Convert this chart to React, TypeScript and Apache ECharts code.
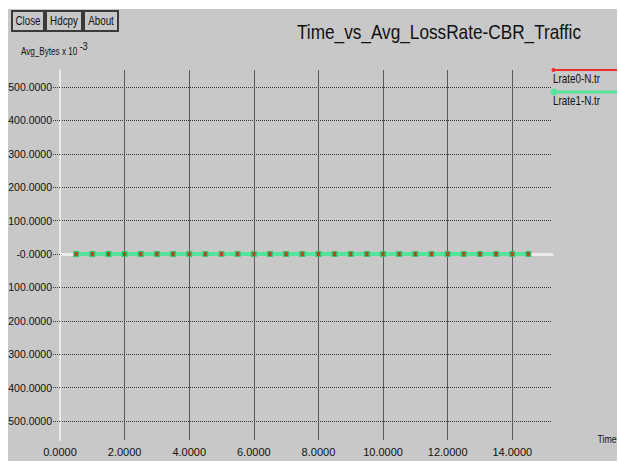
import React, { useEffect, useRef } from "react";
import * as echarts from "echarts";

const timeValues = [0.5, 1.0, 1.5, 2.0, 2.5, 3.0, 3.5, 4.0, 4.5, 5.0, 5.5, 6.0, 6.5, 7.0, 7.5, 8.0, 8.5, 9.0, 9.5, 10.0, 10.5, 11.0, 11.5, 12.0, 12.5, 13.0, 13.5, 14.0, 14.5];
const lrate0Values = [0, 0, 0, 0, 0, 0, 0, 0, 0, 0, 0, 0, 0, 0, 0, 0, 0, 0, 0, 0, 0, 0, 0, 0, 0, 0, 0, 0, 0];
const lrate1Values = [0, 0, 0, 0, 0, 0, 0, 0, 0, 0, 0, 0, 0, 0, 0, 0, 0, 0, 0, 0, 0, 0, 0, 0, 0, 0, 0, 0, 0];
const seriesNames = ["Lrate0-N.tr", "Lrate1-N.tr"];
const buttonLabels = ["Close", "Hdcpy", "About"];
const titleText = "Time_vs_Avg_LossRate-CBR_Traffic";
const yUnitText = "Avg_Bytes x 10";
const yUnitExp = "-3";
const xAxisName = "Time";
const xMin = 0;
const xMax = 15.23;
const xInterval = 2;
const yMin = -500;
const yMax = 500;
const yInterval = 100;

const FONT = '"Liberation Sans", Arial, sans-serif';
const RED = "#ee2a2a";
const GREEN = "#55e39c";

export default function App() {
  const ref = useRef<HTMLDivElement>(null);
  useEffect(() => {
    if (!ref.current) return;
    const chart = echarts.init(ref.current, null, { renderer: "svg" });
    const pairs0 = timeValues.map((t, i) => [t, lrate0Values[i]]);
    const pairs1 = timeValues.map((t, i) => [t, lrate1Values[i]]);
    const btnX = [4, 38, 76];
    const btnW = [32, 36, 34];
    const graphics: any[] = [];
    const txt = (text: string, x: number, y: number, size: number, sx: number, align = "left") => ({
      type: "text",
      x,
      y,
      scaleX: sx,
      style: { text, font: `${size}px ${FONT}`, fill: "#111", align, verticalAlign: "middle" },
    });
    buttonLabels.forEach((b, i) => {
      graphics.push({
        type: "rect",
        shape: { x: btnX[i], y: 2, width: btnW[i], height: 20 },
        style: { fill: "#c8c8c8", stroke: "#3a3a3a", lineWidth: 2 },
      });
      graphics.push(txt(b, btnX[i] + btnW[i] / 2, 12, 12, 0.82, "center"));
    });
    graphics.push(
      txt(titleText, 289, 22.5, 21, 0.82),
      txt(yUnitText, 13, 42, 11, 0.74),
      txt(yUnitExp, 71.5, 37.5, 11, 0.85),
      txt(xAxisName, 589.5, 430, 11, 0.8),
      // legend
      { type: "line", shape: { x1: 545, y1: 61, x2: 609, y2: 61 }, style: { stroke: RED, lineWidth: 2 } },
      { type: "circle", shape: { cx: 545.5, cy: 61, r: 2 }, style: { fill: RED } },
      txt(seriesNames[0], 545, 69.5, 12, 0.82),
      { type: "line", shape: { x1: 545, y1: 83, x2: 609, y2: 83 }, style: { stroke: GREEN, lineWidth: 3 } },
      { type: "circle", shape: { cx: 546, cy: 83, r: 3.5 }, style: { fill: GREEN } },
      txt(seriesNames[1], 545, 91.5, 12, 0.82)
    );

    chart.setOption({
      animation: false,
      backgroundColor: "#c8c8c8",
      grid: [
        { left: 52, top: 61, width: 492, height: 370, outerBoundsMode: "none", containLabel: false },
        { left: 52, top: 78, width: 492, height: 334, outerBoundsMode: "none", containLabel: false },
      ],
      xAxis: [
        {
          type: "value",
          gridIndex: 0,
          min: xMin,
          max: xMax,
          interval: xInterval,
          axisLine: { show: false },
          axisTick: { show: false },
          splitLine: { show: true, showMinLine: false, showMaxLine: false, lineStyle: { color: "#5a5a5a", width: 1 } },
          axisLabel: {
            show: true,
            showMaxLabel: false,
            margin: 6,
            formatter: (v: number) => v.toFixed(4),
            color: "#111",
            fontFamily: FONT,
            fontSize: 11,
          },
        },
        {
          type: "value",
          gridIndex: 1,
          min: xMin,
          max: xMax,
          interval: xInterval,
          axisLine: { show: true, onZero: true, lineStyle: { color: "#ececec", width: 3 } },
          axisTick: { show: false },
          splitLine: { show: false },
          axisLabel: { show: false },
        },
      ],
      yAxis: [
        {
          type: "value",
          gridIndex: 0,
          min: 0,
          max: 1,
          axisLine: { show: true, lineStyle: { color: "#ececec", width: 2 } },
          axisTick: { show: false },
          splitLine: { show: false },
          axisLabel: { show: false },
        },
        {
          type: "value",
          gridIndex: 1,
          min: yMin,
          max: yMax,
          interval: yInterval,
          axisLine: { show: false },
          axisTick: { show: true, length: 7, lineStyle: { color: "#333", type: "dotted", width: 1 } },
          splitLine: { show: true, lineStyle: { color: "#333", type: "dotted", width: 1 } },
          axisLabel: {
            margin: 8,
            formatter: (v: number) => (v === 0 ? "-0.0000" : Math.abs(v).toFixed(4)),
            color: "#111",
            fontFamily: FONT,
            fontSize: 10.5,
          },
        },
      ],
      graphic: graphics,
      series: [
        {
          name: seriesNames[1],
          type: "line",
          xAxisIndex: 1,
          yAxisIndex: 1,
          data: pairs1,
          lineStyle: { color: GREEN, width: 4 },
          symbol: "rect",
          symbolSize: 6,
          itemStyle: { color: "#36c56c" },
          z: 3,
        },
        {
          name: seriesNames[0],
          type: "line",
          xAxisIndex: 1,
          yAxisIndex: 1,
          data: pairs0,
          lineStyle: { color: RED, width: 1, opacity: 0 },
          symbol: "rect",
          symbolSize: [3, 4],
          itemStyle: { color: "#b3451f" },
          z: 4,
        },
      ],
    });
    return () => chart.dispose();
  }, []);
  return (
    <div style={{ position: "fixed", left: 0, top: 0, width: 619, height: 463, background: "#fff" }}>
      <div ref={ref} style={{ position: "absolute", left: 8, top: 9, width: 609, height: 452 }} />
    </div>
  );
}
